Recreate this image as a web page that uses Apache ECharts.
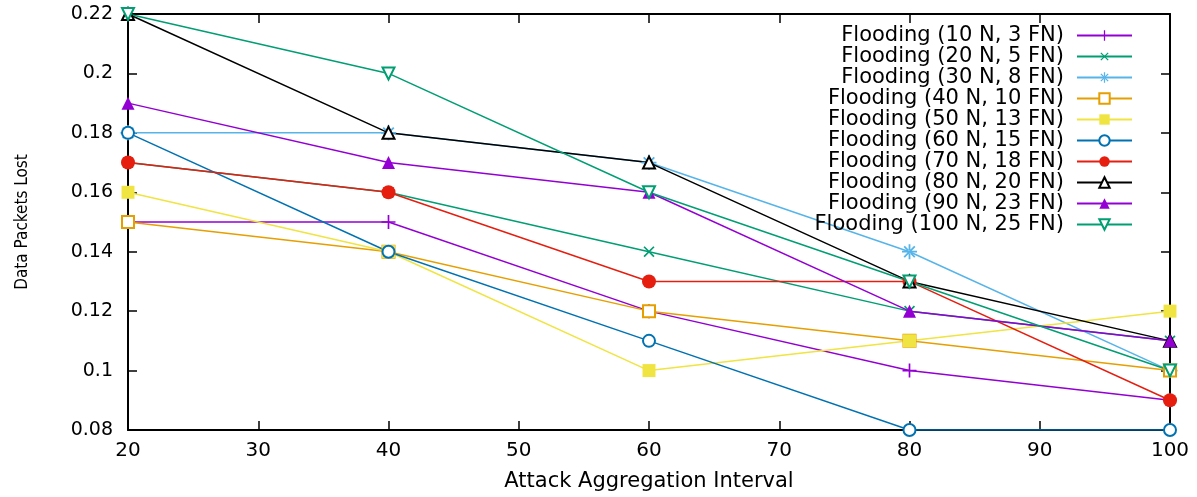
<!DOCTYPE html>
<html>
<head>
<meta charset="utf-8">
<script src="https://cdn.jsdelivr.net/npm/echarts@6/dist/echarts.min.js"></script>
<style>
  html, body { margin: 0; padding: 0; background: #fff; }
  #chart { width: 1197px; height: 497px; }
</style>
</head>
<body>
<div id="chart"></div>
<script>
  // attack aggregation interval (x)
  var intervals = [20, 40, 60, 80, 100];

  var seriesNames = [
    'Flooding (10 N, 3 FN)',
    'Flooding (20 N, 5 FN)',
    'Flooding (30 N, 8 FN)',
    'Flooding (40 N, 10 FN)',
    'Flooding (50 N, 13 FN)',
    'Flooding (60 N, 15 FN)',
    'Flooding (70 N, 18 FN)',
    'Flooding (80 N, 20 FN)',
    'Flooding (90 N, 23 FN)',
    'Flooding (100 N, 25 FN)'
  ];

  // data packets lost per series
  var lost10 = [0.15, 0.15, 0.12, 0.10, 0.09];
  var lost20 = [0.17, 0.16, 0.14, 0.12, 0.11];
  var lost30 = [0.18, 0.18, 0.17, 0.14, 0.10];
  var lost40 = [0.15, 0.14, 0.12, 0.11, 0.10];
  var lost50 = [0.16, 0.14, 0.10, 0.11, 0.12];
  var lost60 = [0.18, 0.14, 0.11, 0.08, 0.08];
  var lost70 = [0.17, 0.16, 0.13, 0.13, 0.09];
  var lost80 = [0.22, 0.18, 0.17, 0.13, 0.11];
  var lost90 = [0.19, 0.17, 0.16, 0.12, 0.11];
  var lost100 = [0.22, 0.20, 0.16, 0.13, 0.10];

  var allLost = [lost10, lost20, lost30, lost40, lost50, lost60, lost70, lost80, lost90, lost100];

  // gnuplot default line colours
  var colors = ['#9400d3', '#009e73', '#56b4e9', '#e69f00', '#f0e442',
                '#0072b2', '#e51e10', '#000000', '#9400d3', '#009e73'];

  var plusPath = 'path://M-1,-0.12H1V0.12H-1ZM-0.12,-1H0.12V1H-0.12Z';
  var starPath = 'path://M-1,-0.12H1V0.12H-1ZM-0.12,-1H0.12V1H-0.12Z' +
    'M-0.792,-0.622L0.622,0.792L0.792,0.622L-0.622,-0.792Z' +
    'M-0.792,0.622L0.622,-0.792L0.792,-0.622L-0.622,0.792Z';

  var symbols = [plusPath, plusPath, starPath, 'emptyRect', 'rect',
                 'emptyCircle', 'circle', 'emptyTriangle', 'triangle', 'emptyTriangle'];
  var symbolSizes = [14, 14, 15, 12, 13, 12, 14, 12, 13, 12];
  var symbolRotates = [0, 45, 0, 0, 0, 0, 0, 0, 0, 180];

  var font = 'DejaVu Sans';

  var series = seriesNames.map(function (name, i) {
    return {
      name: name,
      type: 'line',
      xAxisIndex: 0,
      yAxisIndex: 0,
      data: intervals.map(function (x, j) { return [x, allLost[i][j]]; }),
      symbol: symbols[i],
      symbolSize: symbolSizes[i],
      symbolRotate: symbolRotates[i],
      showAllSymbol: true,
      color: colors[i],
      itemStyle: { color: colors[i], borderWidth: 1.5 },
      lineStyle: { color: colors[i], width: 1.5 },
      emphasis: { disabled: true },
      animation: false
    };
  });

  var chart = echarts.init(document.getElementById('chart'));
  var option = {
    animation: false,
    backgroundColor: '#fff',
    grid: { left: 128, right: 27, top: 14, bottom: 67 },
    legend: {
      orient: 'vertical',
      right: 59,
      top: 20,
      align: 'right',
      itemWidth: 55,
      itemHeight: 13,
      itemGap: 0,
      textStyle: { fontFamily: font, fontSize: 21, color: '#000', padding: [0, 8, 0, 0] },
      data: seriesNames
    },
    xAxis: [{
      type: 'value',
      position: 'bottom',
      min: 20, max: 100, interval: 10,
      name: 'Attack Aggregation Interval',
      nameLocation: 'middle',
      nameGap: 41,
      nameTextStyle: { fontFamily: font, fontSize: 21, color: '#000' },
      axisLine: { show: true, lineStyle: { color: '#000', width: 2 } },
      axisTick: { show: true, inside: true, length: 9, lineStyle: { color: '#000', width: 1.5 } },
      axisLabel: { fontFamily: font, fontSize: 20, color: '#000', margin: 11 },
      splitLine: { show: false }
    }, {
      type: 'value',
      position: 'top',
      min: 20, max: 100, interval: 10,
      axisLine: { show: true, lineStyle: { color: '#000', width: 2 } },
      axisTick: { show: true, inside: true, length: 9, lineStyle: { color: '#000', width: 1.5 } },
      axisLabel: { show: false },
      splitLine: { show: false }
    }],
    yAxis: [{
      type: 'value',
      position: 'left',
      min: 0.08, max: 0.22, interval: 0.02,
      name: 'Data Packets Lost',
      nameLocation: 'middle',
      nameGap: 97,
      nameTextStyle: { fontFamily: 'DejaVu Sans Condensed', fontSize: 17, color: '#000' },
      axisLine: { show: true, lineStyle: { color: '#000', width: 2 } },
      axisTick: { show: true, inside: true, length: 9, lineStyle: { color: '#000', width: 1.5 } },
      axisLabel: { fontFamily: font, fontSize: 19, color: '#000', margin: 15 },
      splitLine: { show: false }
    }, {
      type: 'value',
      position: 'right',
      min: 0.08, max: 0.22, interval: 0.02,
      axisLine: { show: true, lineStyle: { color: '#000', width: 2 } },
      axisTick: { show: true, inside: true, length: 9, lineStyle: { color: '#000', width: 1.5 } },
      axisLabel: { show: false },
      splitLine: { show: false }
    }],
    series: series
  };
  chart.setOption(option);
</script>
</body>
</html>
